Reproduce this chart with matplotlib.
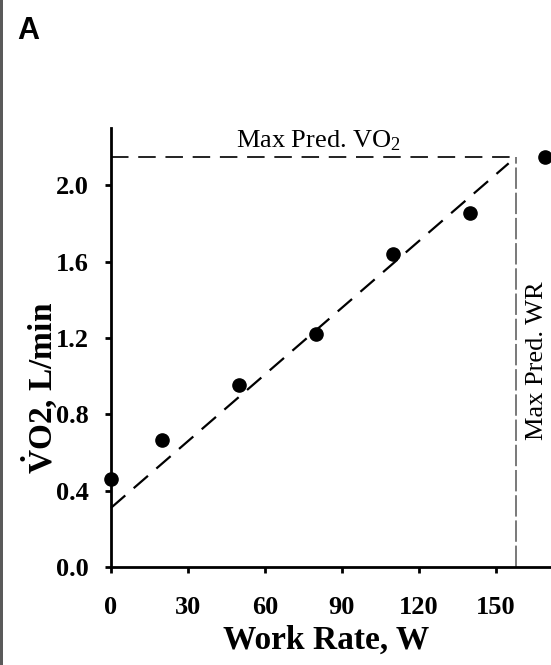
import matplotlib
matplotlib.use("Agg")
from matplotlib import pyplot as plt
from matplotlib.patches import Rectangle
import numpy as np

plt.rcParams['font.family'] = ['Liberation Serif', 'DejaVu Serif']
plt.rcParams['mathtext.fontset'] = 'custom'
plt.rcParams['mathtext.rm'] = 'Liberation Serif'
plt.rcParams['mathtext.it'] = 'Liberation Serif:italic'
plt.rcParams['mathtext.bf'] = 'Liberation Serif:bold'

# measured points
work_rate = [0, 20, 50, 80, 110, 140, 169]
vo2 = [0.46, 0.665, 0.955, 1.22, 1.64, 1.855, 2.15]

# regression line ends
fit_wr = [0, 155]
fit_vo2 = [0.31, 2.115]

max_pred_vo2 = 2.15
max_pred_wr = 158

x_ticks = [0, 30, 60, 90, 120, 150]
y_ticks = [0.0, 0.4, 0.8, 1.2, 1.6, 2.0]

W, H = 551, 665
fig = plt.figure(figsize=(W / 100, H / 100), dpi=100)
ax = fig.add_axes([111 / W, 1 - 567 / H, 440 / W, 439 / H])
ax.set_xlim(0, 171.5)
ax.set_ylim(0, 2.30)

# left frame edge of the panel
fig.add_artist(Rectangle((0, 0), 3 / W, 1, transform=fig.transFigure,
                         color='#5a5a5a', lw=0))

ax.plot(work_rate, vo2, 'o', color='black', ms=9.5, clip_on=False, zorder=5)
ax.plot(fit_wr, fit_vo2, color='black', lw=1.6, dashes=(8.5, 5), clip_on=False)
ax.plot([0, max_pred_wr], [max_pred_vo2, max_pred_vo2], color='#222222', lw=1.4,
        dashes=(9, 5), clip_on=False)
ax.plot([max_pred_wr, max_pred_wr], [0, max_pred_vo2], color='#555555', lw=1.1,
        dashes=(14, 2.5), clip_on=False)

ax.text(81, 2.235, 'Max Pred. VO$_2$', ha='center', va='center', fontsize=19)
ax.text(166, 1.08, 'Max Pred. WR', ha='center', va='center', fontsize=19,
        rotation=90, clip_on=False)

for s in ['top', 'right']:
    ax.spines[s].set_visible(False)
for s in ['left', 'bottom']:
    ax.spines[s].set_linewidth(2)

ax.set_xticks(x_ticks)
ax.set_yticks(y_ticks)
ax.set_yticklabels([f"{v:.1f}" for v in y_ticks])
ax.tick_params(axis='both', direction='out', length=4, width=2, labelsize=19)
ax.tick_params(axis='x', pad=17)
ax.tick_params(axis='y', pad=12)
for lab in ax.get_xticklabels() + ax.get_yticklabels():
    lab.set_fontweight('bold')

ax.set_xlabel('Work Rate, W', fontsize=24, fontweight='bold', va='center')
ax.xaxis.set_label_coords(0.489, -0.166)
ax.set_ylabel(r'$\mathbf{\dot{V}}$O2, L/min', fontsize=24, fontweight='bold',
              va='center')
ax.yaxis.set_label_coords(-0.164, 0.408)

fig.text(28 / W, 1 - 31 / H, 'A', ha='center', va='center', fontsize=22,
         fontweight='bold', family='Liberation Sans')

fig.savefig('out.png', dpi=100)
